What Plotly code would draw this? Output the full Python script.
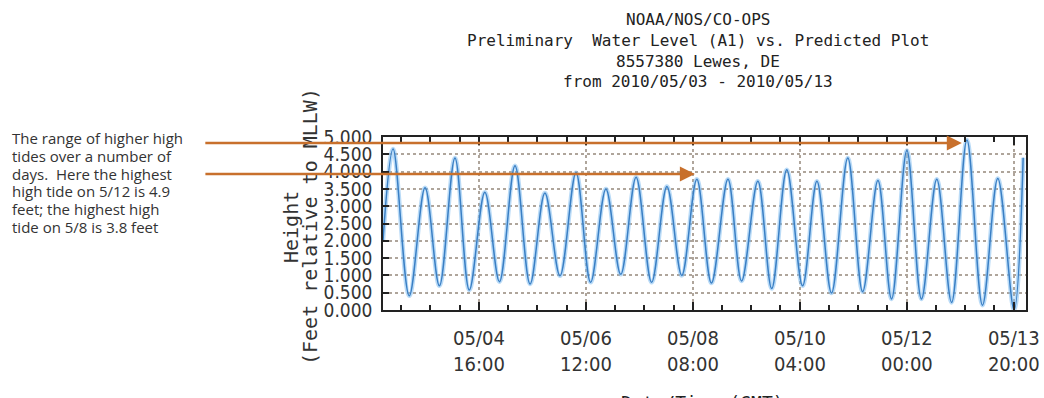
import plotly.graph_objects as go

# ---- data ----
tide_times = [
    "2010-05-03 00:30", "2010-05-03 04:39", "2010-05-03 11:18", "2010-05-03 17:48", "2010-05-03 23:42",
    "2010-05-04 06:06", "2010-05-04 12:00", "2010-05-04 18:24",
    "2010-05-05 00:24", "2010-05-05 06:48", "2010-05-05 13:00", "2010-05-05 19:06",
    "2010-05-06 01:18", "2010-05-06 07:54", "2010-05-06 13:54", "2010-05-06 20:12",
    "2010-05-07 02:18", "2010-05-07 08:36", "2010-05-07 15:00", "2010-05-07 21:18",
    "2010-05-08 03:24", "2010-05-08 09:36", "2010-05-08 15:36", "2010-05-08 22:24",
    "2010-05-09 04:00", "2010-05-09 10:42", "2010-05-09 16:24", "2010-05-09 22:36",
    "2010-05-10 05:06", "2010-05-10 11:00", "2010-05-10 17:00", "2010-05-10 23:42",
    "2010-05-11 05:48", "2010-05-11 12:06", "2010-05-11 17:42",
    "2010-05-12 00:00", "2010-05-12 06:00", "2010-05-12 12:18", "2010-05-12 18:24",
    "2010-05-13 00:42", "2010-05-13 07:06", "2010-05-13 13:24", "2010-05-13 20:06",
    "2010-05-13 23:50",
]
tide_heights = [
    2.0, 4.65, 0.41, 3.53, 0.70,
    4.39, 0.58, 3.40,
    0.82, 4.17, 0.75, 3.38,
    0.99, 3.97, 0.80, 3.50,
    1.03, 3.84, 0.80, 3.57,
    1.00, 3.78, 0.78, 3.78,
    0.84, 3.72, 0.62, 4.05,
    0.70, 3.72, 0.49, 4.39,
    0.53, 3.74, 0.32,
    4.61, 0.32, 3.78, 0.22,
    4.91, 0.14, 3.80, 0.00,
    4.40,
]

title_lines = [
    "NOAA/NOS/CO-OPS",
    "Preliminary\u00a0\u00a0Water Level (A1) vs. Predicted Plot",
    "8557380 Lewes, DE",
    "from 2010/05/03 - 2010/05/13",
]
x_range = ["2010-05-03 00:30", "2010-05-14 01:00"]
major_ticks = ["2010-05-04 16:00", "2010-05-06 12:00", "2010-05-08 08:00",
               "2010-05-10 04:00", "2010-05-12 00:00", "2010-05-13 20:00"]
major_labels = ["05/04<br>16:00", "05/06<br>12:00", "05/08<br>08:00",
                "05/10<br>04:00", "05/12<br>00:00", "05/13<br>20:00"]
minor_ticks = [
    "2010-05-03 08:00", "2010-05-03 20:00", "2010-05-04 08:00",
    "2010-05-05 04:00", "2010-05-05 16:00", "2010-05-06 04:00",
    "2010-05-07 00:00", "2010-05-07 12:00", "2010-05-08 00:00",
    "2010-05-08 20:00", "2010-05-09 08:00", "2010-05-09 20:00",
    "2010-05-10 16:00", "2010-05-11 04:00", "2010-05-11 16:00",
    "2010-05-12 12:00", "2010-05-13 00:00", "2010-05-13 12:00",
]
y_ticks = [0.0, 0.5, 1.0, 1.5, 2.0, 2.5, 3.0, 3.5, 4.0, 4.5, 5.0]
y_title_lines = ["Height", "(Feet relative to MLLW)"]
x_title = "Date/Time (GMT)"

note_lines = [
    "The range of higher high",
    "tides over a number of",
    "days.  Here the highest",
    "high tide on 5/12 is 4.9",
    "feet; the highest high",
    "tide on 5/8 is 3.8 feet",
]
arrow_times = ["2010-05-12 22:36", "2010-05-08 08:48"]
arrow_heights = [4.83, 3.93]

# ---- styles / layout helpers ----
MONO = "DejaVu Sans Mono, Liberation Mono, monospace"
NARROW = "Liberation Sans Narrow, DejaVu Sans Condensed, DejaVu Sans Mono, sans-serif"
ORANGE = "#c8702c"
W, H = 1044, 398
L, R, T, B = 383, 18, 137, 88
PW, PH = W - L - R, H - T - B


def px(xpix):
    return (xpix - L) / PW


def py(ypix):
    return (H - B - ypix) / PH


fig = go.Figure()
fig.add_trace(go.Scatter(x=tide_times, y=tide_heights, mode="lines",
                         line=dict(color="rgba(130,190,240,0.55)", width=4.5, shape="spline"),
                         hoverinfo="skip", showlegend=False))
fig.add_trace(go.Scatter(x=tide_times, y=tide_heights, mode="lines",
                         line=dict(color="#3a7fc4", width=1.5, shape="spline"),
                         showlegend=False))

fig.update_layout(
    width=W, height=H, autosize=False,
    margin=dict(l=L, r=R, t=T, b=B, autoexpand=False),
    paper_bgcolor="white", plot_bgcolor="white",
    xaxis=dict(
        range=x_range, type="date", automargin=False,
        tickmode="array", tickvals=major_ticks, ticktext=major_labels,
        ticks="inside", ticklen=8, tickwidth=1.5, tickcolor="#222",
        tickfont=dict(family=NARROW, size=20, color="#333"),
        showline=True, linecolor="#222", linewidth=1.5, mirror="ticks",
        showgrid=True, gridcolor="rgb(175,165,155)", griddash="dot", gridwidth=1.5,
        zeroline=False,
        minor=dict(tickmode="array", tickvals=minor_ticks, ticks="inside",
                   ticklen=5, tickwidth=1.5, tickcolor="#222", showgrid=False),
        ticklabelstandoff=9,
    ),
    yaxis=dict(
        range=[0, 5], tickmode="array", tickvals=y_ticks, tickformat=".3f",
        automargin=False,
        ticks="inside", ticklen=6, tickwidth=1.5, tickcolor="#222",
        tickfont=dict(family=NARROW, size=19, color="#333"),
        showline=True, linecolor="#222", linewidth=1.5, mirror=True,
        showgrid=True, gridcolor="rgb(175,165,155)", griddash="dot", gridwidth=1.5,
        zeroline=False, ticklabelstandoff=5,
    ),
)

# title lines
for text, yc in zip(title_lines, [19, 40, 61, 81]):
    fig.add_annotation(text=text, xref="paper", yref="paper", x=px(698), y=py(yc),
                       showarrow=False, xanchor="center", yanchor="middle",
                       font=dict(family=MONO, size=16, color="#222"))

# y-axis title (two rotated lines)
for text, xc in zip(y_title_lines, [291, 310]):
    fig.add_annotation(text=text, xref="paper", yref="paper", x=px(xc), y=py(227),
                       textangle=-90, showarrow=False, xanchor="center", yanchor="middle",
                       font=dict(family=MONO, size=20, color="#333"))

# x-axis title (cut off at the bottom)
fig.add_annotation(text=x_title, xref="paper", yref="paper", x=px(702), y=py(390),
                   showarrow=False, xanchor="center", yanchor="top",
                   font=dict(family=MONO, size=18, color="#222"))

# explanatory note
for i, line in enumerate(note_lines):
    fig.add_annotation(text=line, xref="paper", yref="paper",
                       x=px(10), y=py(138 + 17.8 * i), xanchor="left", yanchor="middle",
                       align="left", showarrow=False,
                       font=dict(family="Open Sans, Lato, sans-serif", size=15, color="#333"))

# orange arrows
for t, h, tail in zip(arrow_times, arrow_heights, [-758, -491]):
    fig.add_annotation(x=t, y=h, xref="x", yref="y", text="", showarrow=True,
                       ax=tail, ay=0, axref="pixel", ayref="pixel",
                       arrowhead=2, arrowsize=1.2, arrowwidth=2.5, arrowcolor=ORANGE,
                       standoff=0)

fig.write_html("out.html", config={"displayModeBar": False},
               post_script="document.body.style.margin='0px';")
